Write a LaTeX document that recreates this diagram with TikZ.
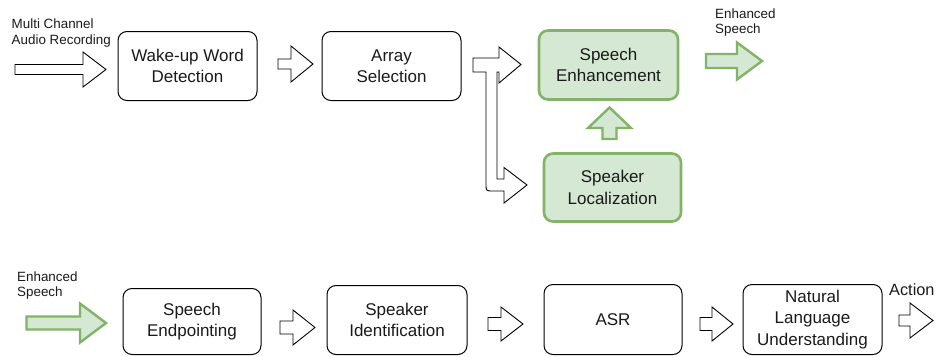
\documentclass[tikz,border=0pt]{standalone}
\usepackage{fontspec}
\setmainfont{Liberation Sans}
\definecolor{gfill}{HTML}{D5E8D4}
\definecolor{gline}{HTML}{82B366}
\definecolor{txt}{HTML}{1A1A1A}
\newcommand{\barrow}[7][]{%
  % x1, x2 (tip), yc, head start x, half shaft, half head
  \draw[#1] (#2,#4-#6) -- (#5,#4-#6) -- (#5,#4-#7) -- (#3,#4) -- (#5,#4+#7) -- (#5,#4+#6) -- (#2,#4+#6) -- cycle;}
\begin{document}
\begin{tikzpicture}[x=1pt,y=-1pt,
  box/.style={draw=black, line width=1pt, rounded corners=9pt, fill=white, align=center,
    text=txt, font=\fontsize{17}{21.5}\selectfont, inner sep=0pt},
  gbox/.style={box, draw=gline, fill=gfill, line width=2.6pt},
  blk/.style={draw=black, line width=0.9pt, fill=white, line join=miter},
  gblk/.style={draw=gline, line width=2.4pt, fill=gfill, line join=miter},
  lbl/.style={inner sep=0pt, align=left, text=txt, font=\fontsize{13.4}{15.5}\selectfont}]
\useasboundingbox (0,0) rectangle (936,356);
% top row boxes
\node[box, minimum width=139pt, minimum height=69pt] (wake) at (187.5,66) {Wake-up Word\\Detection};
\node[box, minimum width=139pt, minimum height=69pt] (array) at (391.5,66) {Array\\Selection};
\node[gbox, minimum width=139pt, minimum height=69pt] (enh) at (608.5,65) {Speech\\Enhancement};
\node[gbox, minimum width=137pt, minimum height=68pt] (loc) at (612.5,187.5) {Speaker\\Localization};
% bottom row boxes
\node[box, minimum width=138pt, minimum height=66pt] (endp) at (192,321.5) {Speech\\Endpointing};
\node[box, minimum width=140pt, minimum height=69pt] (spk) at (397,320) {Speaker\\Identification};
\node[box, minimum width=138pt, minimum height=70pt] (asr) at (613,319.5) {ASR};
\node[box, minimum width=139pt, minimum height=70pt] (nlu) at (812.5,319.5) {Natural\\Language\\Understanding};
% labels
\node[lbl, anchor=north west] (lin) at (11.5,19) {Multi Channel\\Audio Recording};
\node[lbl, anchor=north west] (lout) at (715,8.5) {Enhanced\\Speech};
\node[lbl, anchor=north west] (lin2) at (17,271.5) {Enhanced\\Speech};
\node[inner sep=0pt, anchor=north west, text=txt, font=\fontsize{16.3}{19}\selectfont] (act) at (889,283) {Action};
% block arrows top row
\barrow[blk]{15}{106}{69.5}{83}{5}{17.5}
\barrow[blk]{278}{313}{64}{291}{5}{18}
\barrow[gblk]{706}{762}{61}{737}{7}{18.5}
% up arrow
\draw[gblk] (602.5,139) -- (616.5,139) -- (616.5,128) -- (631,128) -- (609.5,107.5) -- (588,128) -- (602.5,128) -- cycle;
% split arrow
\draw[blk] (473,58) -- (499,58) -- (499,47) -- (521,64.5) -- (499,83) -- (499,72) -- (497,72)
  -- (497,179) -- (504,179) -- (504,167.5) -- (527,185) -- (504,203) -- (504,191) -- (493,191)
  .. controls (486,191) .. (486,184) -- (486,72) -- (473,72) -- cycle;
% bottom row arrows
\barrow[gblk]{26.5}{106}{323}{80}{6.5}{19.5}
\barrow[blk]{280}{315}{327.5}{293}{6.5}{17.5}
\barrow[blk]{488}{523}{324}{501}{6.5}{17}
\barrow[blk]{700}{733}{324}{712}{6.5}{17}
\barrow[blk]{899}{933}{320.5}{910}{5.5}{17.5}
\end{tikzpicture}
\end{document}
